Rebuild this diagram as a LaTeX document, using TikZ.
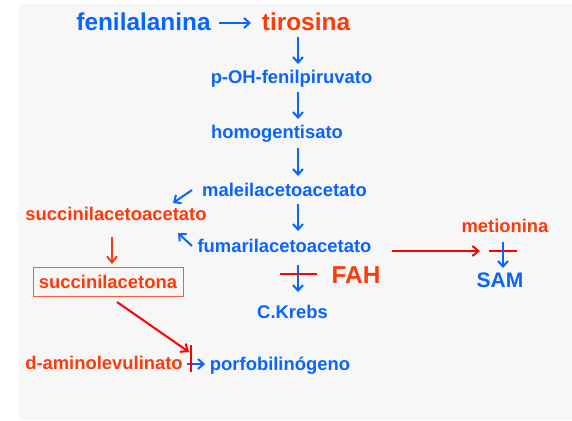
\documentclass[tikz,border=0pt]{standalone}
\usepackage{fontspec}
\setmainfont{Liberation Sans}
\usetikzlibrary{arrows.meta}
\definecolor{bgc}{HTML}{F7F7F7}
\definecolor{bl}{HTML}{0A64FF}
\definecolor{rt}{HTML}{FF3A0A}
\definecolor{rl}{HTML}{FF0000}
\definecolor{bx}{HTML}{FF5A3A}
\tikzset{
  bt/.style={text=bl,font=\bfseries\fontsize{18.4}{20}\selectfont,anchor=base,inner sep=0pt},
  rtx/.style={text=rt,font=\bfseries\fontsize{18.4}{20}\selectfont,anchor=base,inner sep=0pt},
  big/.style={font=\bfseries\fontsize{24.4}{26}\selectfont},
  barrow/.style={draw=bl,line width=2pt,-{Straight Barb[length=5.5pt,width=10pt,line width=2pt]}},
  rarrow/.style={draw=rl,line width=2pt,-{Straight Barb[length=6pt,width=10pt,line width=2pt]}},
  rarrowo/.style={draw=rt,line width=2pt,-{Straight Barb[length=6pt,width=10pt,line width=2pt]}},
  inhib/.style={draw=rl,line width=2pt},
}
\begin{document}
\begin{tikzpicture}[x=1pt,y=-1pt]
\useasboundingbox (0,0) rectangle (572,420);
\fill[bgc] (19,4) rectangle (572,420);
% nodes
\node[bt,big] (fen) at (143.5,31) {fenilalanina};
\node[rtx,big] (tir) at (306,31) {tirosina};
\node[bt] (poh) at (291.5,83) {p-OH-fenilpiruvato};
\node[bt] (hom) at (277,138) {homogentisato};
\node[bt] (mal) at (284.5,196.5) {maleilacetoacetato};
\node[rtx] (sac) at (116,220) {succinilacetoacetato};
\node[bt] (fum) at (284.5,252) {fumarilacetoacetato};
\node[rtx,draw=bx,line width=0.8pt,inner xsep=6pt,inner ysep=0pt,minimum height=29pt,anchor=center] (sak) at (108,281.5) {succinilacetona};
\node[rtx,big] (fah) at (356,283) {FAH};
\node[bt] (ck) at (292.5,318) {C.Krebs};
\node[rtx] (dal) at (104,369) {d-aminolevulinato};
\node[bt] (por) at (280,370) {porfobilinógeno};
\node[rtx] (met) at (505,232) {metionina};
\node[bt,font=\bfseries\fontsize{21}{23}\selectfont] (sam) at (500,287) {SAM};
% arrow end points
\coordinate (a1) at (219,23);   \coordinate (a2) at (251,23);
\coordinate (b1) at (298,37);   \coordinate (b2) at (298,64);
\coordinate (c1) at (298,92);   \coordinate (c2) at (298,119);
\coordinate (d1) at (298,148);  \coordinate (d2) at (298,176);
\coordinate (e1) at (298,204);  \coordinate (e2) at (298,231);
\coordinate (f1) at (192,190);  \coordinate (f2) at (173,203);
\coordinate (g1) at (192,246);  \coordinate (g2) at (178,233);
\coordinate (h1) at (112,237);  \coordinate (h2) at (112,264);
\coordinate (k1) at (298,265);  \coordinate (k2) at (298,292);
\coordinate (m1) at (117,302);  \coordinate (m2) at (189,352);
\coordinate (n1) at (187,364);  \coordinate (n2) at (205,364);
\coordinate (p1) at (392,251);  \coordinate (p2) at (480,251);
\coordinate (q1) at (503,242);  \coordinate (q2) at (503,268);
% connectors
\draw[barrow] (a1) -- (a2);
\draw[barrow] (b1) -- (b2);
\draw[barrow] (c1) -- (c2);
\draw[barrow] (d1) -- (d2);
\draw[barrow] (e1) -- (e2);
\draw[barrow] (f1) -- (f2);
\draw[barrow] (g1) -- (g2);
\draw[rarrowo] (h1) -- (h2);
\draw[barrow] (k1) -- (k2);
\draw[inhib] (280,274) -- (317,274);
\draw[rarrow] (m1) -- (m2);
\draw[barrow] (n1) -- (n2);
\draw[inhib] (191,345) -- (191,372);
\draw[rarrow] (p1) -- (p2);
\draw[inhib] (489,251) -- (517,251);
\draw[barrow] (q1) -- (q2);
\end{tikzpicture}
\end{document}
